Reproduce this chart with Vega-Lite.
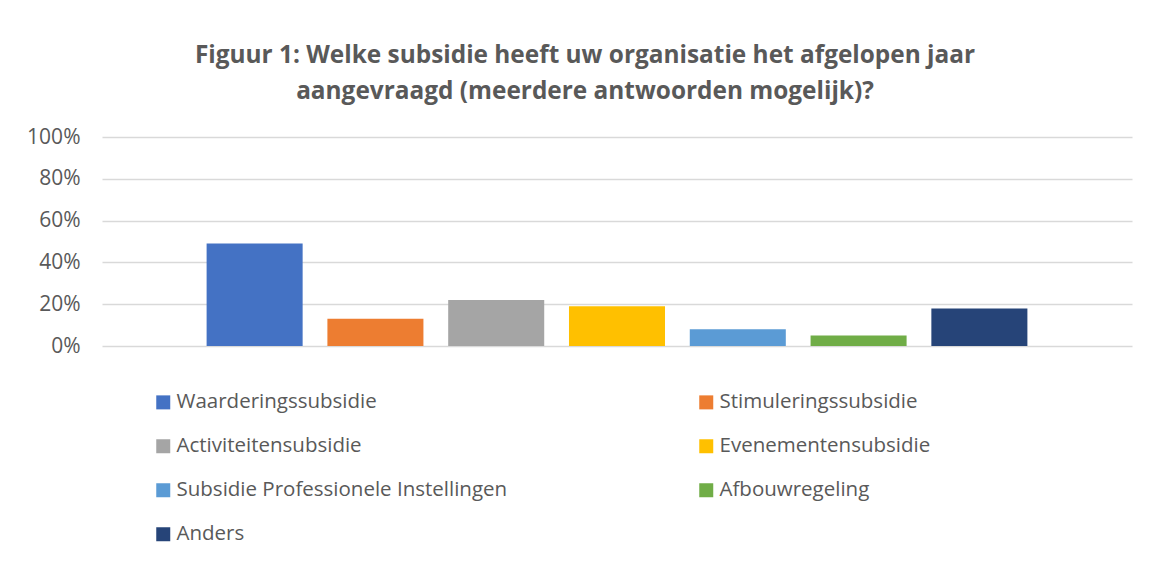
{
  "$schema": "https://vega.github.io/schema/vega-lite/v6.json",
  "width": 1030,
  "height": 209,
  "autosize": {"type": "none"},
  "padding": {"left": 102, "top": 137, "right": 21, "bottom": 217},
  "background": "white",
  "title": {
    "text": ["Figuur 1: Welke subsidie heeft uw organisatie het afgelopen jaar", "aangevraagd (meerdere antwoorden mogelijk)?"],
    "font": "Open Sans",
    "fontSize": 24.4,
    "fontWeight": "bold",
    "color": "#595959",
    "anchor": "middle",
    "frame": "group",
    "dx": -32,
    "offset": 22,
    "lineHeight": 36
  },
  "data": {
    "values": [
      {"series": "Waarderingssubsidie", "value": 0.49},
      {"series": "Stimuleringssubsidie", "value": 0.13},
      {"series": "Activiteitensubsidie", "value": 0.22},
      {"series": "Evenementensubsidie", "value": 0.19},
      {"series": "Subsidie Professionele Instellingen", "value": 0.08},
      {"series": "Afbouwregeling", "value": 0.05},
      {"series": "Anders", "value": 0.18}
    ]
  },
  "mark": {"type": "bar"},
  "encoding": {
    "x": {
      "field": "series",
      "type": "nominal",
      "sort": null,
      "axis": null,
      "scale": {"paddingInner": 0.205, "paddingOuter": 0.866}
    },
    "y": {
      "field": "value",
      "type": "quantitative",
      "scale": {"domain": [0, 1]},
      "axis": {
        "values": [0, 0.2, 0.4, 0.6, 0.8, 1],
        "format": ".0%",
        "title": null,
        "domain": false,
        "ticks": false,
        "grid": true,
        "gridColor": "#d9d9d9",
        "gridWidth": 1.5,
        "labelFont": "Open Sans",
        "labelFontSize": 21,
        "labelColor": "#595959",
        "labelPadding": 22
      }
    },
    "color": {
      "field": "series",
      "type": "nominal",
      "sort": null,
      "scale": {
        "domain": ["Waarderingssubsidie", "Stimuleringssubsidie", "Activiteitensubsidie", "Evenementensubsidie", "Subsidie Professionele Instellingen", "Afbouwregeling", "Anders"],
        "range": ["#4472C4", "#ED7D31", "#A5A5A5", "#FFC000", "#5B9BD5", "#70AD47", "#264478"]
      },
      "legend": {
        "title": null,
        "orient": "none",
        "legendX": 51,
        "legendY": 255,
        "direction": "horizontal",
        "columns": 2,
        "columnPadding": 188,
        "rowPadding": 23,
        "padding": 0,
        "symbolType": "square",
        "symbolSize": 196,
        "symbolStrokeWidth": 0,
        "labelFont": "Open Sans",
        "labelFontSize": 20.5,
        "labelColor": "#595959",
        "labelOffset": 3,
        "labelLimit": 500
      }
    }
  },
  "config": {"view": {"stroke": null}}
}
